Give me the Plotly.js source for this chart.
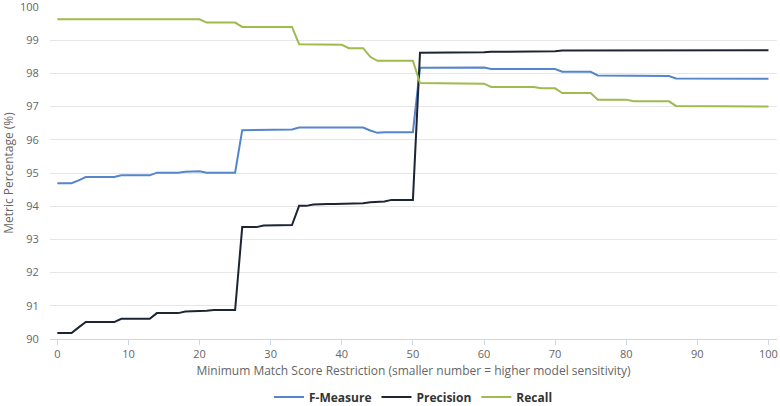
<!DOCTYPE html>
<html>
<head>
<meta charset="utf-8">
<script src="https://cdn.plot.ly/plotly-3.0.1.min.js"></script>
<style>
  html, body { margin: 0; padding: 0; background: #fff; }
  #chart { width: 780px; height: 406px; }
</style>
</head>
<body>
<div id="chart"></div>
<script>
// minimum match score, 0..100
var score = [];
for (var i = 0; i <= 100; i++) score.push(i);

var fMeasure = [
  94.69, 94.69, 94.69, 94.78, 94.88, 94.88, 94.88, 94.88, 94.88, 94.93,
  94.93, 94.93, 94.93, 94.93, 95.01, 95.01, 95.01, 95.01, 95.04, 95.04,
  95.05, 95.01, 95.01, 95.01, 95.01, 95.01, 96.29, 96.29, 96.29, 96.31,
  96.31, 96.31, 96.31, 96.31, 96.37, 96.37, 96.39, 96.39, 96.39, 96.39,
  96.39, 96.37, 96.37, 96.37, 96.28, 96.21, 96.23, 96.23, 96.23, 96.23,
  96.23, 98.17, 98.17, 98.17, 98.17, 98.17, 98.18, 98.18, 98.18, 98.18,
  98.18, 98.13, 98.13, 98.13, 98.13, 98.13, 98.13, 98.13, 98.13, 98.13,
  98.13, 98.05, 98.05, 98.05, 98.05, 98.05, 97.94, 97.94, 97.94, 97.94,
  97.94, 97.92, 97.92, 97.92, 97.92, 97.92, 97.92, 97.85, 97.85, 97.85,
  97.85, 97.84, 97.84, 97.84, 97.84, 97.84, 97.84, 97.84, 97.84, 97.84,
  97.84
];

var precision = [
  90.18, 90.18, 90.18, 90.35, 90.51, 90.51, 90.51, 90.51, 90.51, 90.61,
  90.61, 90.61, 90.61, 90.61, 90.78, 90.78, 90.78, 90.78, 90.83, 90.83,
  90.85, 90.85, 90.87, 90.87, 90.87, 90.87, 93.37, 93.37, 93.37, 93.42,
  93.42, 93.42, 93.42, 93.43, 94.01, 94.01, 94.05, 94.07, 94.07, 94.07,
  94.07, 94.07, 94.09, 94.09, 94.12, 94.12, 94.14, 94.19, 94.19, 94.19,
  94.19, 98.62, 98.62, 98.62, 98.62, 98.62, 98.64, 98.64, 98.64, 98.64,
  98.64, 98.65, 98.65, 98.65, 98.65, 98.65, 98.67, 98.67, 98.67, 98.67,
  98.67, 98.69, 98.69, 98.69, 98.69, 98.69, 98.69, 98.69, 98.71, 98.71,
  98.71, 98.71, 98.71, 98.71, 98.71, 98.71, 98.71, 98.71, 98.71, 98.70,
  98.70, 98.70, 98.70, 98.70, 98.70, 98.70, 98.70, 98.70, 98.70, 98.70,
  98.70
];

var recall = [
  99.63, 99.63, 99.63, 99.63, 99.63, 99.63, 99.63, 99.63, 99.63, 99.63,
  99.63, 99.63, 99.63, 99.63, 99.63, 99.63, 99.63, 99.63, 99.63, 99.63,
  99.63, 99.53, 99.53, 99.53, 99.53, 99.53, 99.40, 99.40, 99.40, 99.40,
  99.40, 99.40, 99.40, 99.40, 98.88, 98.88, 98.88, 98.88, 98.86, 98.86,
  98.86, 98.76, 98.76, 98.76, 98.50, 98.38, 98.38, 98.38, 98.38, 98.38,
  98.38, 97.71, 97.71, 97.71, 97.71, 97.71, 97.71, 97.71, 97.69, 97.69,
  97.69, 97.59, 97.59, 97.59, 97.59, 97.59, 97.59, 97.59, 97.55, 97.55,
  97.55, 97.41, 97.41, 97.41, 97.41, 97.41, 97.21, 97.21, 97.21, 97.21,
  97.21, 97.16, 97.16, 97.16, 97.16, 97.16, 97.16, 97.02, 97.02, 97.02,
  97.02, 97.00, 97.00, 97.00, 97.00, 97.00, 97.00, 97.00, 97.00, 97.00,
  97.00
];

var fTrace = {
  type: 'scatter',
  mode: 'lines',
  x: score,
  y: fMeasure,
  name: 'F-Measure',
  line: {color: '#5585cc', width: 2}
};

var pTrace = {
  type: 'scatter',
  mode: 'lines',
  x: score,
  y: precision,
  name: 'Precision',
  line: {color: '#1c2533', width: 2}
};

var rTrace = {
  type: 'scatter',
  mode: 'lines',
  x: score,
  y: recall,
  name: 'Recall',
  line: {color: '#9dbb4f', width: 2}
};

var data = [fTrace, pTrace, rTrace];

var layout = {
  width: 780,
  height: 406,
  margin: {l: 50, r: 3, t: 7, b: 67},
  paper_bgcolor: 'white',
  plot_bgcolor: 'white',
  font: {family: 'Open Sans, sans-serif', size: 11, color: '#666666'},
  showlegend: true,
  xaxis: {
    range: [-1.03, 101.2],
    tickvals: [0, 10, 20, 30, 40, 50, 60, 70, 80, 90, 100],
    showgrid: false,
    zeroline: false,
    showline: true,
    linecolor: '#ccd6eb',
    linewidth: 1,
    ticks: 'outside',
    ticklen: 5,
    tickcolor: '#ccd6eb',
    tickfont: {size: 11, color: '#666666'},
    automargin: false,
    title: {
      text: 'Minimum Match Score Restriction (smaller number = higher model sensitivity)',
      font: {size: 12, color: '#666666'},
      standoff: 6
    }
  },
  yaxis: {
    range: [90, 100],
    dtick: 1,
    showgrid: true,
    gridcolor: '#e6e6e6',
    zeroline: false,
    showline: false,
    ticks: 'outside',
    ticklen: 8,
    tickcolor: 'rgba(0,0,0,0)',
    tickfont: {size: 11, color: '#666666'},
    ticklabeloverflow: 'allow',
    automargin: false,
    title: {
      text: 'Metric Percentage (%)',
      font: {size: 12, color: '#666666'},
      standoff: 8
    }
  },
  legend: {
    orientation: 'h',
    x: 0.5,
    xanchor: 'center',
    yref: 'container',
    y: 0.022,
    yanchor: 'middle',
    font: {size: 12, color: '#333333', weight: 'bold'},
    itemwidth: 30
  }
};

var config = {responsive: false, displayModeBar: false};

Plotly.newPlot('chart', data, layout, config);
</script>
</body>
</html>
